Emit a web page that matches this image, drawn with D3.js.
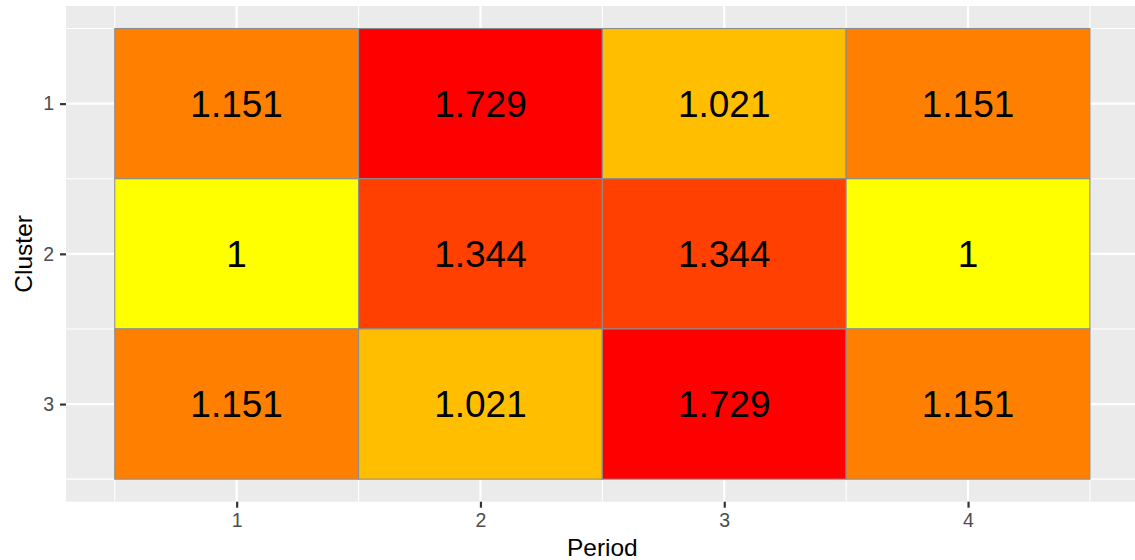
<!DOCTYPE html>
<html><head><meta charset="utf-8">
<script src="https://cdn.jsdelivr.net/npm/d3@7"></script>
<style>
html,body{margin:0;padding:0;background:#fff;overflow:hidden;}
text{font-family:"Liberation Sans",Arial,Helvetica,sans-serif;}
</style></head>
<body>
<svg id="chart" width="1135" height="560"></svg>
<script>
// ---- data ----
const periods = ["1", "2", "3", "4"];
const clusters = ["1", "2", "3"];
const cluster1 = [1.151, 1.729, 1.021, 1.151];
const cluster2 = [1, 1.344, 1.344, 1];
const cluster3 = [1.151, 1.021, 1.729, 1.151];
const xTitle = "Period";
const yTitle = "Cluster";

const rows = [cluster1, cluster2, cluster3];
const cells = [];
clusters.forEach((c, ci) => periods.forEach((p, pi) => cells.push({cluster: c, period: p, ci: ci + 1, pi: pi + 1, value: rows[ci][pi]})));

// ---- layout ----
const svg = d3.select("#chart");
const panel = {left: 66, right: 1138.7, top: 6, bottom: 501.7};
const x = d3.scaleLinear().domain([0.3, periods.length + 0.7]).range([panel.left, panel.right]);
const y = d3.scaleLinear().domain([0.35, clusters.length + 0.65]).range([panel.top, panel.bottom]);
const color = d3.scaleOrdinal()
  .domain([1, 1.021, 1.151, 1.344, 1.729])
  .range(["#FFFF00", "#FFBF00", "#FF8000", "#FF4000", "#FF0000"]);

// panel background
svg.append("rect").attr("x", panel.left).attr("y", panel.top)
  .attr("width", panel.right - panel.left).attr("height", panel.bottom - panel.top)
  .attr("fill", "#EBEBEB");

const grid = svg.append("g");
// minor grid
d3.range(0.5, periods.length + 1, 1).forEach(v => grid.append("line")
  .attr("x1", x(v)).attr("x2", x(v)).attr("y1", panel.top).attr("y2", panel.bottom)
  .attr("stroke", "#fff").attr("stroke-width", 1.1));
d3.range(0.5, clusters.length + 1, 1).forEach(v => grid.append("line")
  .attr("y1", y(v)).attr("y2", y(v)).attr("x1", panel.left).attr("x2", panel.right)
  .attr("stroke", "#fff").attr("stroke-width", 1.1));
// major grid
periods.forEach((p, i) => grid.append("line")
  .attr("x1", x(i + 1)).attr("x2", x(i + 1)).attr("y1", panel.top).attr("y2", panel.bottom)
  .attr("stroke", "#fff").attr("stroke-width", 2.2));
clusters.forEach((c, i) => grid.append("line")
  .attr("y1", y(i + 1)).attr("y2", y(i + 1)).attr("x1", panel.left).attr("x2", panel.right)
  .attr("stroke", "#fff").attr("stroke-width", 2.2));

// tiles
svg.append("g").selectAll("rect").data(cells).join("rect")
  .attr("x", d => x(d.pi - 0.5)).attr("y", d => y(d.ci - 0.5))
  .attr("width", d => x(d.pi + 0.5) - x(d.pi - 0.5))
  .attr("height", d => y(d.ci + 0.5) - y(d.ci - 0.5))
  .attr("fill", d => color(d.value))
  .attr("stroke", "#8C8C8C").attr("stroke-width", 1.1);

// labels
svg.append("g").selectAll("text").data(cells).join("text")
  .attr("x", d => x(d.pi)).attr("y", d => y(d.ci))
  .attr("dy", "0.355em")
  .attr("text-anchor", "middle")
  .attr("font-size", 37)
  .attr("fill", "#000")
  .text(d => String(d.value));

// axes
const xAxis = d3.axisBottom(x).tickValues(periods.map((p, i) => i + 1))
  .tickFormat((d, i) => periods[i]).tickSize(6).tickPadding(5);
const gx = svg.append("g").attr("transform", `translate(0,${panel.bottom})`).call(xAxis);
gx.select(".domain").remove();
gx.selectAll(".tick line").attr("stroke", "#333").attr("stroke-width", 2.2);
gx.selectAll(".tick text").attr("fill", "#4D4D4D").attr("font-size", 19.5)
  .attr("font-family", "Liberation Sans, Arial, sans-serif");

const yAxis = d3.axisLeft(y).tickValues(clusters.map((c, i) => i + 1))
  .tickFormat((d, i) => clusters[i]).tickSize(6).tickPadding(6);
const gy = svg.append("g").attr("transform", `translate(${panel.left},0)`).call(yAxis);
gy.select(".domain").remove();
gy.selectAll(".tick line").attr("stroke", "#333").attr("stroke-width", 2.2);
gy.selectAll(".tick text").attr("fill", "#4D4D4D").attr("font-size", 19.5)
  .attr("font-family", "Liberation Sans, Arial, sans-serif");

// titles
svg.append("text").attr("x", (panel.left + panel.right) / 2).attr("y", 556)
  .attr("text-anchor", "middle").attr("font-size", 24.5).attr("fill", "#000").text(xTitle);
svg.append("text").attr("transform", `translate(32,${(panel.top + panel.bottom) / 2}) rotate(-90)`)
  .attr("text-anchor", "middle").attr("font-size", 24.5).attr("fill", "#000").text(yTitle);
</script>
</body></html>
